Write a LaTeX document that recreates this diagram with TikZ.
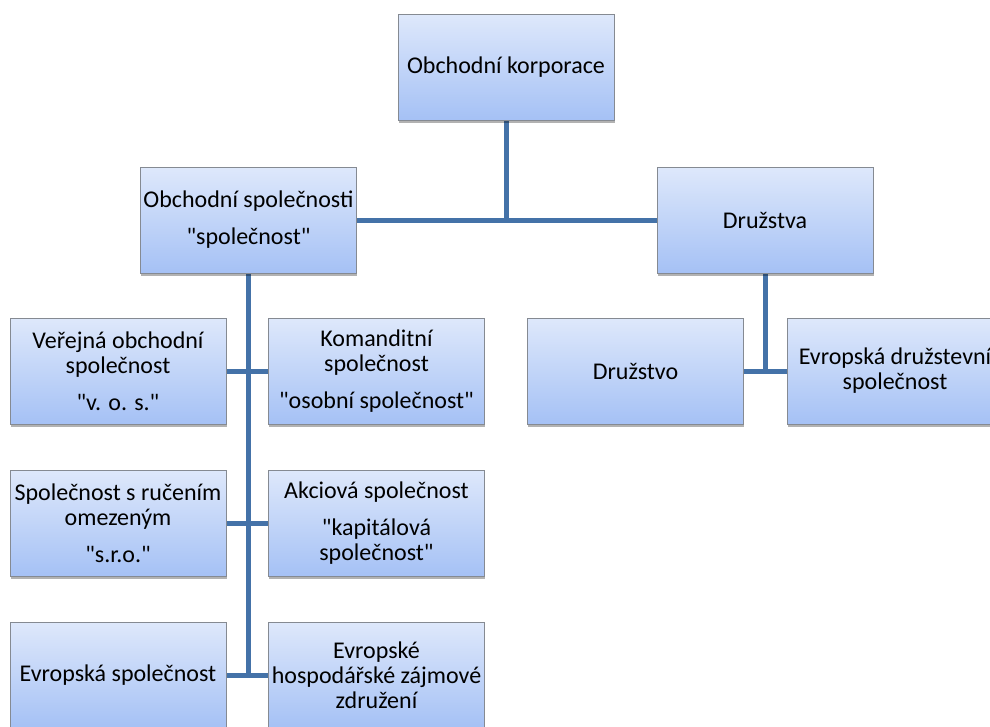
\documentclass[tikz,border=0pt]{standalone}
\usepackage{fontspec}
\setmainfont{Carlito}
\newfontfamily\carl{Carlito}
\usetikzlibrary{shadows,backgrounds}
\definecolor{boxtop}{HTML}{DEE8FB}
\definecolor{boxbot}{HTML}{A5C1F5}
\definecolor{boxline}{HTML}{858A92}
\definecolor{conn}{HTML}{4472A8}
\tikzset{
  orgbox/.style={rectangle, draw=boxline, line width=0.6pt, top color=boxtop, bottom color=boxbot,
    minimum width=162pt, minimum height=79.5pt, inner sep=0pt, align=center,
    font=\carl\fontsize{18pt}{18.8pt}\selectfont,
    drop shadow={shadow xshift=0.6pt, shadow yshift=-2pt, opacity=0.3, fill=black}},
  link/.style={draw=conn, line width=3.75pt}
}
\begin{document}
\begin{tikzpicture}[x=0.75pt,y=-0.75pt]
\useasboundingbox (0,0) rectangle (990,726);
\clip (0,0) rectangle (990,726);
\node[orgbox] (kor) at (506,67) {Obchodní korporace};
\node[orgbox] (os) at (248.5,220) {Obchodní společnosti\\[9pt]"společnost"};
\node[orgbox] (dr) at (765,220) {Družstva};
\node[orgbox] (vos) at (118,371) {Veřejná obchodní\\společnost\\[9pt]"v. o. s."};
\node[orgbox] (ks) at (376.5,371) {Komanditní\\společnost\\[9pt]"osobní společnost"};
\node[orgbox] (dru) at (635.5,371) {Družstvo};
\node[orgbox] (eds) at (895,371) {Evropská družstevní\\společnost};
\node[orgbox] (sro) at (118,523) {Společnost s ručením\\omezeným\\[9pt]"s.r.o."};
\node[orgbox] (as) at (376.5,523) {Akciová společnost\\[9pt]"kapitálová\\společnost"};
\node[orgbox] (es) at (118,675) {Evropská společnost};
\node[orgbox] (ehz) at (376.5,675) {Evropské\\hospodářské zájmové\\združení};
\begin{scope}[on background layer]
\draw[link] (kor.south) -- (kor.south |- os.east);
\draw[link] (os.east) -- (dr.west);
\draw[link] (os.south) -- (os.south |- es.east);
\draw[link] (vos.east) -- (ks.west);
\draw[link] (sro.east) -- (as.west);
\draw[link] (es.east) -- (ehz.west);
\draw[link] (dr.south) -- (dr.south |- dru.east);
\draw[link] (dru.east) -- (eds.west);
\end{scope}
\end{tikzpicture}
\end{document}
